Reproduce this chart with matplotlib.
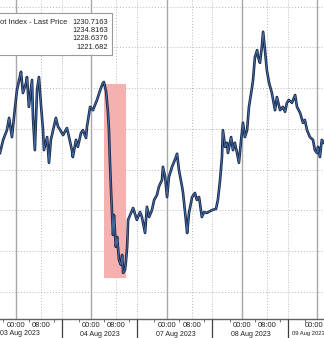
import matplotlib
matplotlib.use("Agg")
import matplotlib.pyplot as plt
from matplotlib.patches import Rectangle
import matplotlib.transforms as mtransforms

# ---- data: hours since 03 Aug 2023 00:00 (weekend removed), index level ----
hours = [-5.1, -4.1, -2.9, -2.2, -1.3, -0.3, 0.3, 1.0, 1.6, 2.2, 3.2, 3.5, 4.1, 5.1, 5.4, 6.0,
         6.7, 7.3, 8.0, 8.6, 8.9, 9.9, 10.5, 11.1, 11.8, 12.7, 13.4, 13.7, 15.0, 16.2, 16.6,
         17.8, 18.1, 19.1, 19.7, 20.7, 21.3, 22.3, 22.6, 23.6, 24.5, 25.8, 26.8, 27.7, 28.0,
         28.7, 29.3, 29.6, 29.9, 30.3, 30.6, 30.9, 31.2, 31.8, 32.2, 32.8, 33.4, 33.8, 34.1,
         34.7, 35.0, 35.4, 35.7, 37.0, 37.3, 38.5, 39.5, 40.1, 41.1, 41.7, 42.4, 43.3, 44.0,
         44.9, 45.5, 46.5, 46.8, 47.5, 48.1, 48.7, 49.7, 50.6, 51.3, 51.9, 52.9, 53.2, 54.1,
         54.5, 55.1, 56.1, 57.0, 57.6, 58.3, 59.2, 59.9, 60.8, 62.4, 63.7, 64.3, 65.0, 65.6,
         65.9, 66.6, 67.2, 67.5, 68.5, 69.1, 69.7, 70.4, 71.0, 71.7, 72.3, 72.9, 73.6, 74.2,
         75.2, 75.5, 76.1, 76.8, 77.1, 77.7, 78.3, 78.7, 79.3, 79.9, 80.6, 81.5, 81.9, 82.5,
         83.1, 84.1, 85.0, 85.7, 86.3, 86.9, 87.9, 88.9, 89.5, 90.5, 91.4, 92.0, 92.7, 93.6,
         94.6, 95.2, 95.9, 96.2, 96.8, 97.4, 98.1]
prices = [1227.41, 1227.73, 1227.97, 1228.27, 1227.80, 1228.54, 1228.95, 1229.20, 1229.40,
          1228.88, 1229.13, 1229.27, 1228.54, 1229.20, 1228.29, 1227.48, 1228.95, 1229.27,
          1228.54, 1227.97, 1227.48, 1227.80, 1227.17, 1227.73, 1227.97, 1228.27, 1228.05,
          1228.02, 1227.85, 1228.02, 1227.90, 1227.48, 1227.31, 1227.73, 1227.56, 1227.90,
          1227.97, 1227.78, 1228.05, 1228.54, 1228.46, 1228.71, 1228.95, 1229.13, 1229.15,
          1228.91, 1228.39, 1227.97, 1227.24, 1226.43, 1225.94, 1225.40, 1225.89, 1225.11,
          1225.35, 1224.79, 1224.67, 1224.91, 1224.47, 1224.54, 1224.74, 1225.11, 1225.77,
          1226.01, 1226.06, 1225.77, 1225.96, 1225.84, 1225.45, 1226.09, 1225.84, 1226.01,
          1226.26, 1226.38, 1226.58, 1226.75, 1227.07, 1226.82, 1226.33, 1226.82, 1227.07,
          1227.24, 1227.39, 1226.99, 1226.58, 1226.43, 1225.77, 1225.45, 1225.94, 1226.33,
          1226.43, 1226.26, 1226.33, 1225.84, 1225.96, 1225.94, 1226.01, 1226.04, 1226.26,
          1226.75, 1227.31, 1227.97, 1227.56, 1227.66, 1227.41, 1227.80, 1227.48, 1227.66,
          1227.41, 1227.17, 1227.73, 1228.15, 1227.80, 1227.97, 1228.54, 1229.03, 1229.20,
          1229.76, 1229.93, 1229.76, 1229.62, 1230.01, 1230.38, 1229.93, 1229.44, 1229.13,
          1228.88, 1228.71, 1228.46, 1228.78, 1228.46, 1228.54, 1228.42, 1228.64, 1228.71,
          1228.64, 1228.83, 1228.54, 1228.39, 1228.15, 1228.22, 1227.97, 1227.80, 1227.73,
          1227.48, 1227.41, 1227.56, 1227.31, 1227.73, 1227.66]

day_labels = ["03 Aug 2023", "04 Aug 2023", "07 Aug 2023", "08 Aug 2023", "09 Aug 2023"]
time_labels = ["00:00", "08:00"]
legend_title = "ot Index - Last Price"
legend_values = ["1230.7163", "1234.8163", "1228.6376", "1221.682"]
highlight_hours = (28.0, 35.0)
highlight_prices = (1224.35, 1229.10)

plt.rcParams['font.family'] = ['Liberation Sans', 'DejaVu Sans']
FS = 5.4
FS_DATE = 5.0
XLIM = (-5.1, 98.1)
YLIM = (1223.34, 1231.16)

fig = plt.figure(figsize=(3.24, 3.38), dpi=100)
fig.patch.set_facecolor('white')
ax = fig.add_axes([0, 19 / 338, 1, 319 / 338])

# grid
for lvl in range(1224, 1232):
    ax.axhline(lvl, color='#b5b5b5', lw=0.7, ls=(0, (1, 2)), zorder=1)
for d in range(5):
    ax.axvline(24 * d, color='#a8a8a8', lw=1.0, zorder=1)
    ax.axvline(24 * d + 8, color='#b5b5b5', lw=0.7, ls=(0, (1, 2)), zorder=1)
    ax.axvline(24 * d + 14.5, color='#c0c0c0', lw=0.7, ls=(0, (1, 1.5)), zorder=1)

# highlight box
ax.add_patch(Rectangle((highlight_hours[0], highlight_prices[0]),
                       highlight_hours[1] - highlight_hours[0],
                       highlight_prices[1] - highlight_prices[0],
                       facecolor='#f5b0b0', edgecolor='none', zorder=2))

# price line
ax.plot(hours, prices, color='#1b2747', lw=1.9, zorder=3)
ax.plot(hours, prices, color='#4f83c4', lw=0.6, alpha=0.85, zorder=4)

# axes styling
for s in ['left', 'right', 'top']:
    ax.spines[s].set_visible(False)
ax.spines['bottom'].set_color('#606060')
ax.spines['bottom'].set_linewidth(1.0)
ax.set_yticks([])

major = []
major_lbl = []
for d in range(5):
    for i, h in enumerate([0, 8]):
        major.append(24 * d + h)
        major_lbl.append(time_labels[i])
ax.set_xticks(major)
# last tick label (at the right edge) is drawn separately so it stays inside the picture
ax.set_xticklabels(major_lbl[:-2] + [""] * 2, fontsize=FS, color='#202020')
ax.tick_params(axis='x', which='major', length=0, pad=2.5)
ax.set_xticks([24 * d + h for d in range(-1, 5) for h in (4, 12, 20)], minor=True)
ax.tick_params(axis='x', which='minor', length=2, width=0.6, color='#606060')
ax.set_xlim(*XLIM)
ax.set_ylim(*YLIM)

trans = mtransforms.blended_transform_factory(ax.transData, ax.transAxes)
fig.text(323.5 / 324, 1 - 325.5 / 338, major_lbl[-2], ha='right', va='center',
         fontsize=FS, color='#202020')

# session separators below the axis
for d in range(4):
    ax.plot([24 * d + 14.5] * 2, [0, -19 / 319], transform=trans, color='#404040',
            lw=0.9, clip_on=False)

# day labels
for i, lbl in enumerate(day_labels):
    if i == 0:
        fig.text(0.5 / 324, 1 - 333.5 / 338, lbl, ha='left', va='center',
                 fontsize=FS_DATE, color='#202020')
    elif i == len(day_labels) - 1:
        fig.text(291.5 / 324, 1 - 333.5 / 338, lbl, ha='left', va='center',
                 fontsize=4.2, color='#202020')
    else:
        ax.text(24 * i + 2.8, -15.5 / 319, lbl, transform=trans, ha='center',
                va='center', fontsize=FS_DATE, color='#202020')

# legend box
box = Rectangle((-2 / 324, 1 - 55 / 338), 114 / 324, 42 / 338, transform=fig.transFigure,
                facecolor='white', edgecolor='#9a9a9a', lw=0.8, zorder=10)
fig.add_artist(box)
rows_y = [22, 30.5, 39, 47.5]
fig.text(0.5 / 324, 1 - rows_y[0] / 338, legend_title, ha='left', va='center',
         fontsize=FS, color='#202020', zorder=11)
for val, yy in zip(legend_values, rows_y):
    fig.text(108 / 324, 1 - yy / 338, val, ha='right', va='center',
             fontsize=FS, color='#202020', zorder=11)

ax.set_xlim(*XLIM)
ax.set_ylim(*YLIM)
fig.savefig('out.png', dpi=100, facecolor='white')
